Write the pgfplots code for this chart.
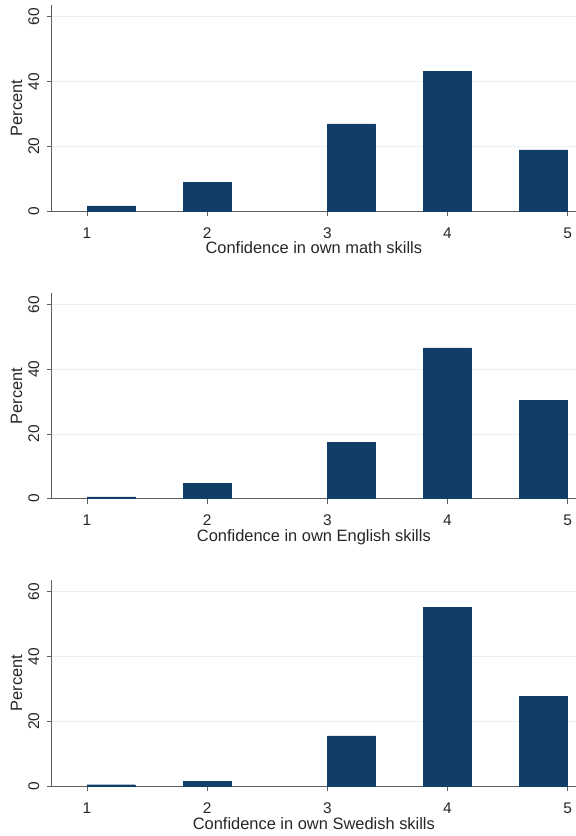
\documentclass[border=0pt]{standalone}
\usepackage{pgfplots}
\pgfplotsset{compat=1.18}
\usepackage{fontspec}
\setmainfont{Liberation Sans}
\definecolor{barc}{RGB}{16,62,102}
\definecolor{axc}{RGB}{95,95,95}
\definecolor{gridc}{RGB}{232,240,242}
\pgfplotsset{
  panel/.style={
    scale only axis,
    width=524.3bp, height=205.6bp,
    anchor=south west,
    xmin=0.706, xmax=5.07,
    ymin=0, ymax=63.5,
    axis lines*=left,
    axis line style={axc, line width=0.8pt, -},
    xtick={1,2,3,4,5},
    ytick={0,20,40,60},
    tick style={axc, line width=0.8pt},
    tick align=outside,
    major tick length=5bp,
    ymajorgrids,
    grid style={gridc, line width=0.8pt},
    /pgf/number format/assume math mode=true,
    tick label style={font=\fontsize{15.5}{17}\selectfont, text=black!85},
    yticklabel style={rotate=90, anchor=south, yshift=4bp},
    xticklabel style={yshift=-8bp},
    label style={font=\fontsize{16.5}{18}\selectfont, text=black!85},
    ylabel={Percent},
    ylabel style={yshift=-1bp},
    xlabel style={at={(axis description cs:0.5,0)}, anchor=base, yshift=-43bp},
    ybar, bar width=0.4, bar shift=0pt,
    clip=false,
  },
}
\begin{document}
\begin{tikzpicture}
\useasboundingbox (0,0) rectangle (576bp,836bp);
\begin{axis}[panel, at={(51.7bp,625bp)}, xlabel={Confidence in own math skills}]
\addplot[fill=barc, draw=barc] coordinates {(1.2,1.6) (2.0,8.8) (3.2,26.9) (4.0,43.2) (4.8,18.9)};
\end{axis}
\begin{axis}[panel, at={(51.7bp,337.3bp)}, xlabel={Confidence in own English skills}]
\addplot[fill=barc, draw=barc] coordinates {(1.2,0.6) (2.0,4.8) (3.2,17.4) (4.0,46.6) (4.8,30.4)};
\end{axis}
\begin{axis}[panel, at={(51.7bp,50bp)}, xlabel={Confidence in own Swedish skills}]
\addplot[fill=barc, draw=barc] coordinates {(1.2,0.4) (2.0,1.5) (3.2,15.5) (4.0,55.1) (4.8,27.6)};
\end{axis}
\end{tikzpicture}
\end{document}
